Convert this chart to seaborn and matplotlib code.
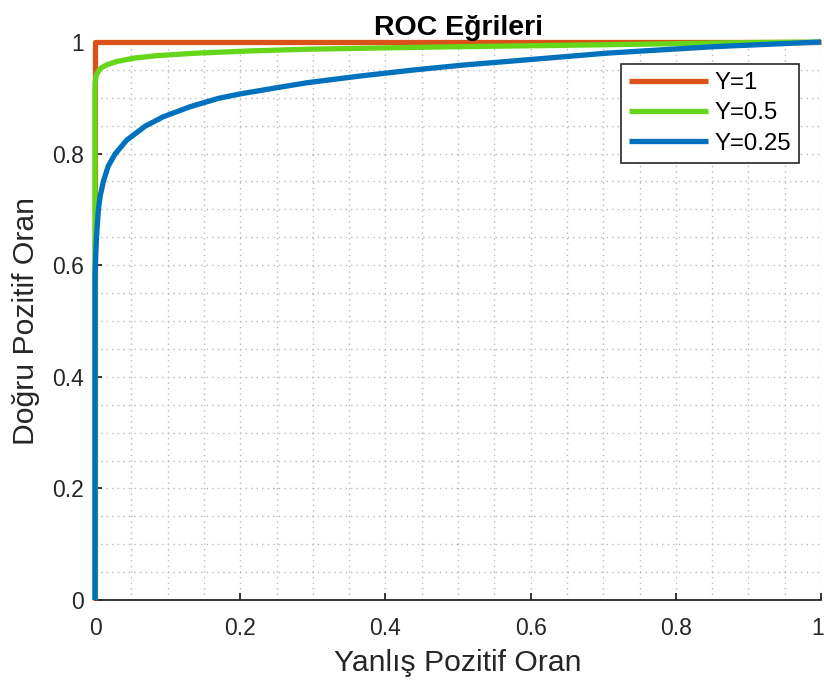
import numpy as np
import pandas as pd
import matplotlib
matplotlib.use("Agg")
import matplotlib.pyplot as plt
import matplotlib.transforms as mtransforms
import seaborn as sns

# ROC curve samples (false positive rate, true positive rate) per setting
labels = ["Y=1", "Y=0.5", "Y=0.25"]

fpr_y1 = [0.0, 0.0, 1.0]
tpr_y1 = [0.0, 1.0, 1.0]

fpr_y05 = [0.0, 0.0, 0.001, 0.003, 0.0078, 0.016, 0.0298, 0.053, 0.085, 0.14,
           0.213, 0.292, 0.4, 0.5, 0.585, 0.7, 0.8, 0.9, 1.0]
tpr_y05 = [0.0, 0.925, 0.937, 0.944, 0.953, 0.959, 0.965, 0.971, 0.9755, 0.980,
           0.984, 0.987, 0.9895, 0.9915, 0.993, 0.995, 0.997, 0.999, 1.0]

fpr_y025 = [0.0, 0.0, 0.001, 0.002, 0.0046, 0.007, 0.0115, 0.018, 0.0275, 0.0436,
            0.069, 0.094, 0.131, 0.170, 0.2, 0.25, 0.292, 0.365, 0.44, 0.51,
            0.585, 0.705, 0.852, 1.0]
tpr_y025 = [0.0, 0.58, 0.62, 0.649, 0.699, 0.723, 0.750, 0.777, 0.799, 0.824,
            0.849, 0.866, 0.884, 0.899, 0.907, 0.918, 0.927, 0.939, 0.950, 0.959,
            0.967, 0.980, 0.9916, 1.0]

colors = ["#D95319", "#66D61A", "#0072BD"]
tick_vals = [0, 0.2, 0.4, 0.6, 0.8, 1]
tick_text = ["0", "0.2", "0.4", "0.6", "0.8", "1"]

frames = []
for lab, fx, ty in zip(labels, [fpr_y1, fpr_y05, fpr_y025], [tpr_y1, tpr_y05, tpr_y025]):
    frames.append(pd.DataFrame({"fpr": fx, "tpr": ty, "curve": lab}))
df = pd.concat(frames, ignore_index=True)

sns.set_theme(style="white")
plt.rcParams["font.family"] = ["Liberation Sans", "DejaVu Sans"]
text_color = "#262626"

fig = plt.figure(figsize=(8.24, 6.84), dpi=100)
ax = fig.add_axes([0.1153, 0.1228, 0.8811, 0.8158])

sns.lineplot(data=df, x="fpr", y="tpr", hue="curve", hue_order=labels,
             palette=colors, sort=False, estimator=None, units="curve",
             linewidth=3.8, clip_on=False, ax=ax, zorder=3,
             solid_joinstyle="round", solid_capstyle="butt")

ax.set_xlim(0, 1)
ax.set_ylim(0, 1)
ax.set_xticks(tick_vals)
ax.set_xticklabels(tick_text)
ax.set_yticks(tick_vals)
ax.set_yticklabels(tick_text)
ax.set_xticks(np.arange(0, 1.0001, 0.05), minor=True)
ax.set_yticks(np.arange(0, 1.0001, 0.05), minor=True)
ax.grid(which="both", linestyle=(0, (1, 3)), color="#b8b8b8", linewidth=1.0, zorder=0)
ax.set_axisbelow(True)

ax.tick_params(which="major", direction="in", length=5, width=1.3, colors=text_color,
               labelsize=16.5, top=False, right=False, bottom=True, left=True)
ax.tick_params(axis="x", which="major", pad=12)
ax.tick_params(axis="y", which="major", pad=8)
ax.tick_params(which="minor", length=0)

# keep the last x tick label inside the canvas
last_lbl = ax.get_xticklabels()[-1]
last_lbl.set_transform(last_lbl.get_transform() +
                       mtransforms.ScaledTranslation(-3 / 100, 0, fig.dpi_scale_trans))

for side in ["top", "right"]:
    ax.spines[side].set_visible(False)
for side in ["bottom", "left"]:
    ax.spines[side].set_color(text_color)
    ax.spines[side].set_linewidth(1.3)

ax.set_xlabel("Yanlış Pozitif Oran", fontsize=21.7, color=text_color, labelpad=7)
ax.set_ylabel("Doğru Pozitif Oran", fontsize=21.7, color=text_color, labelpad=9)
ax.set_title("ROC Eğrileri", fontsize=20.5, fontweight="bold", color="black", pad=5)

leg = ax.legend(loc="upper right", bbox_to_anchor=(0.9697, 0.9606), borderaxespad=0,
                fontsize=17.3, frameon=True, fancybox=False, handlelength=3.3,
                handletextpad=0.25, labelspacing=0.35, borderpad=0.33)
leg.get_frame().set_edgecolor(text_color)
leg.get_frame().set_linewidth(1.2)
leg.get_frame().set_facecolor("white")
leg.get_frame().set_alpha(1)
for line in leg.get_lines():
    line.set_linewidth(3.8)
for t in leg.get_texts():
    t.set_color("black")

fig.savefig("out.png", dpi=100)
